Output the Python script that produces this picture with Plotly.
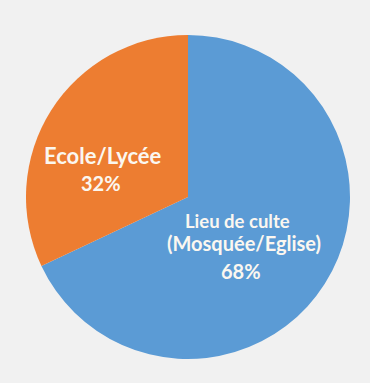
import plotly.graph_objects as go

labels = ["Lieu de culte (Mosquée/Eglise)", "Ecole/Lycée"]
label_lines = [["Lieu de culte", "(Mosquée/Eglise)"], ["Ecole/Lycée"]]
values = [68, 32]
colors = ["#5B9BD5", "#ED7D31"]

W, H = 370, 383
total = sum(values)
pcts = [f"{round(v * 100 / total)}%" for v in values]

fig = go.Figure(go.Pie(
    labels=labels,
    values=values,
    sort=False,
    direction="clockwise",
    rotation=0,
    marker=dict(colors=colors, line=dict(width=0)),
    textinfo="none",
    hoverinfo="label+percent",
    showlegend=False,
    domain=dict(x=[26 / W, 350 / W], y=[22 / H, 350 / H]),
))

# pixel centres and font sizes of each text line per slice (name lines then percent)
line_pos = [[(237, 221), (244, 243), (241, 271)],
            [(103, 155), (101, 183)]]
line_size = [[18.5, 20, 20], [22, 20]]
for i in range(len(labels)):
    lines = label_lines[i] + [pcts[i]]
    for txt, (px, py), sz in zip(lines, line_pos[i], line_size[i]):
        fig.add_annotation(x=px / W, y=1 - py / H, xref="paper", yref="paper",
                           text=f"<b>{txt}</b>", showarrow=False,
                           font=dict(family="Lato", size=sz, color="#FBF7F0"),
                           xanchor="center", yanchor="middle")

fig.update_layout(
    width=W, height=H,
    margin=dict(l=0, r=0, t=0, b=0),
    paper_bgcolor="#F1F1F1",
    plot_bgcolor="#F1F1F1",
)
fig.write_html("out.html", config={"displayModeBar": False})
